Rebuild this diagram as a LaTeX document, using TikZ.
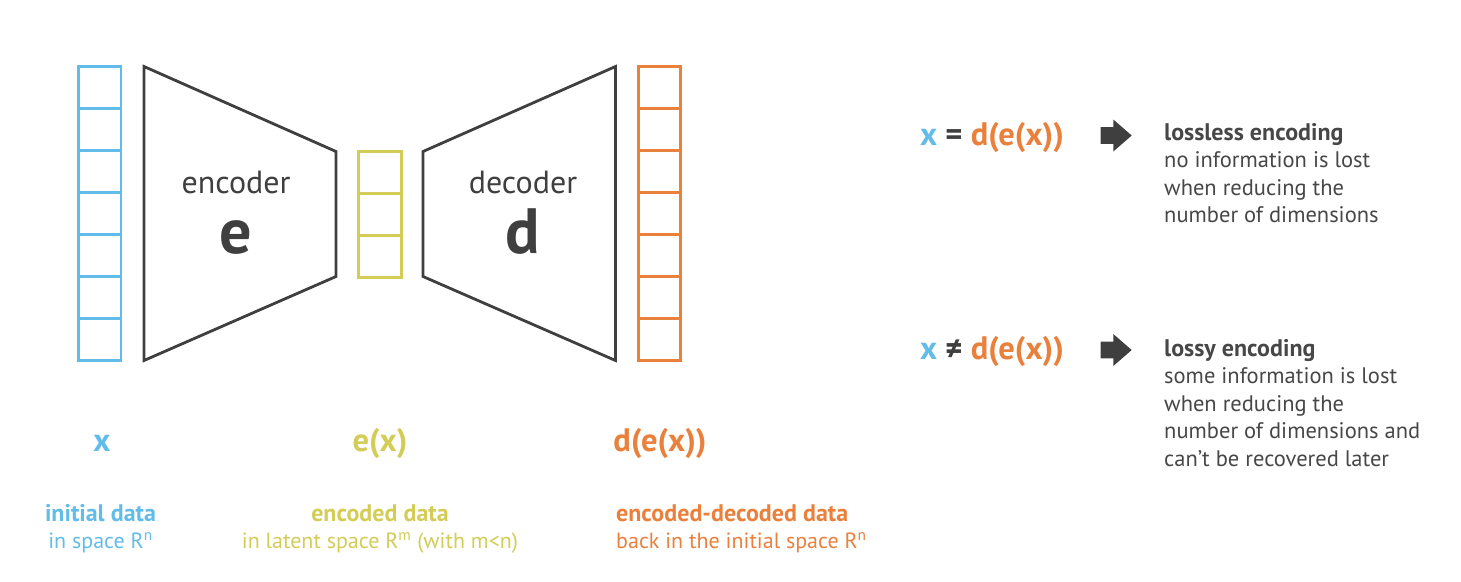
\documentclass[tikz,border=0pt]{standalone}
\usepackage{fontspec}
\setmainfont{PT Sans}
\usepackage{xcolor}
\usepackage{tikz}
\usetikzlibrary{positioning}
\definecolor{inblue}{HTML}{62BCEA}
\definecolor{latyellow}{HTML}{D3CC57}
\definecolor{outorange}{HTML}{E9803C}
\definecolor{funnelgray}{HTML}{3F3F3F}
\definecolor{bodygray}{HTML}{474747}
\newcommand{\bodyfont}{\fontsize{22.5}{27.5}\selectfont}
\newcommand{\infofont}{\fontsize{22}{27.5}\selectfont}
\newcommand{\symfont}{\fontsize{32.5}{38}\selectfont\bfseries}
\newcommand{\headline}[1]{{\fontsize{24}{24}\selectfont\bfseries #1}}

\begin{document}
\begin{tikzpicture}[x=1pt, y=-1pt,
  cellline/.style={line width=2.7pt},
  funnel/.style={line width=2.8pt, draw=funnelgray, line join=miter},
  fname/.style={font=\fontsize{32}{38}\selectfont, text=funnelgray, anchor=base, inner sep=0pt},
  fletter/.style={font=\fontsize{64}{70}\selectfont\bfseries, text=funnelgray, anchor=base, inner sep=0pt},
  datalabel/.style={font=\symfont, anchor=base, inner sep=0pt},
  datainfo/.style={font=\infofont, align=center, anchor=base, inner sep=0pt},
  rulebox/.style={font=\bodyfont, text=bodygray, align=left, anchor=base west, inner sep=0pt}]
  \useasboundingbox (0,0) rectangle (1461,581);

  % Input column x (7 cells)
  \foreach \i in {0,...,6}
    \draw[cellline, inblue] (78.7, 66.3+42.03*\i) rectangle ++(42.3, 42.03);

  % Encoder funnel
  \draw[funnel] (144,66.5) -- (336,151.5) -- (336,276.5) -- (144,360.5) -- cycle;
  \node[fname] (enctext) at (236,193.3) {encoder};
  \node[fletter] (encsym) at (235.5,253.3) {e};

  % Latent column e(x) (3 cells)
  \foreach \i in {0,...,2}
    \draw[cellline, latyellow] (358.7, 151.3+42*\i) rectangle ++(42.6, 42);

  % Decoder funnel
  \draw[funnel] (423,151.5) -- (615.5,66.5) -- (615.5,360.5) -- (423,276.5) -- cycle;
  \node[fname] (dectext) at (523,193.3) {decoder};
  \node[fletter] (decsym) at (523,253.3) {d};

  % Output column d(e(x)) (7 cells)
  \foreach \i in {0,...,6}
    \draw[cellline, outorange] (638.7, 66.3+42.03*\i) rectangle ++(41.6, 42.03);

  % Labels under the columns (anchor = baseline of the last line)
  \node[datalabel, text=inblue] (xlab) at (102,451.7) {x};
  \node[datalabel, text=latyellow] (exlab) at (380,451.7) {e(x)};
  \node[datalabel, text=outorange] (dexlab) at (660,451.7) {d(e(x))};

  \node[datainfo, text=inblue] (xinfo) at (100.5,548.5)
    {\headline{initial data}\\in space R\textsuperscript{n}};
  \node[datainfo, text=latyellow] (exinfo) at (380,548.5)
    {\headline{encoded data}\\in latent space R\textsuperscript{m} (with m<n)};
  \node[datainfo, align=left, anchor=base west, text=outorange] (dexinfo) at (616,548.5)
    {\headline{encoded-decoded data}\\back in the initial space R\textsuperscript{n}};

  % Lossless case
  \node[datalabel, anchor=base west] (eqlossless) at (920,145)
    {\textcolor{inblue}{x} \textcolor{funnelgray}{=} \textcolor{outorange}{d(e(x))}};
  \fill[funnelgray] (1100.7,127.2) -- (1113.3,127.2) -- (1113.3,119.5)
    -- (1131.7,135.5) -- (1113.3,151.5) -- (1113.3,143.8) -- (1100.7,143.8) -- cycle;
  \node[rulebox] (lossless) at (1164,222.5)
    {\headline{lossless encoding}\\no information is lost\\when reducing the\\number of dimensions};

  % Lossy case
  \node[datalabel, anchor=base west] (eqlossy) at (920,359)
    {\textcolor{inblue}{x} \textcolor{funnelgray}{≠} \textcolor{outorange}{d(e(x))}};
  \fill[funnelgray] (1100.7,341.7) -- (1113.3,341.7) -- (1113.3,334)
    -- (1131.7,350) -- (1113.3,366) -- (1113.3,358.3) -- (1100.7,358.3) -- cycle;
  \node[rulebox] (lossy) at (1164,466)
    {\headline{lossy encoding}\\some information is lost\\when reducing the\\number of dimensions and\\can’t be recovered later};

\end{tikzpicture}
\end{document}
